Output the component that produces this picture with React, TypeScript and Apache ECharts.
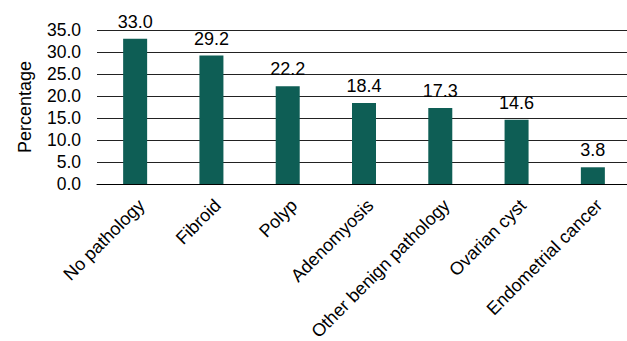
import React, { useEffect, useRef } from "react";
import * as echarts from "echarts";

const categories = [
  "No pathology",
  "Fibroid",
  "Polyp",
  "Adenomyosis",
  "Other benign pathology",
  "Ovarian cyst",
  "Endometrial cancer",
];
const values = [33.0, 29.2, 22.2, 18.4, 17.3, 14.6, 3.8];
const yAxisName = "Percentage";

export default function App() {
  const ref = useRef<HTMLDivElement>(null);
  useEffect(() => {
    if (!ref.current) return;
    const chart = echarts.init(ref.current, null, { renderer: "svg" });
    const font = "'Liberation Sans', Arial, sans-serif";
    chart.setOption({
      animation: false,
      grid: { left: 97, top: 30, width: 534, height: 154, outerBoundsMode: "none", containLabel: false },
      xAxis: {
        type: "category",
        data: categories,
        axisLine: { show: true, lineStyle: { color: "#000", width: 1 } },
        axisTick: { show: false },
        axisLabel: {
          rotate: 45,
          interval: 0,
          margin: 12,
          fontSize: 18,
          verticalAlign: "top",
          color: "#000",
          fontFamily: font,
        },
      },
      yAxis: {
        type: "value",
        min: 0,
        max: 35,
        interval: 5,
        name: yAxisName,
        nameLocation: "middle",
        nameGap: 63,
        nameTextStyle: { fontSize: 18, color: "#000", fontFamily: font },
        axisLine: { show: false },
        axisTick: { show: false },
        axisLabel: {
          fontSize: 17.5,
          color: "#000",
          fontFamily: font,
          margin: 16,
          formatter: (v: number) => v.toFixed(1),
        },
        splitLine: { lineStyle: { color: "#222", width: 1.2 } },
      },
      series: [
        {
          type: "bar",
          data: values,
          barWidth: 24,
          itemStyle: { color: "#0e5e55" },
          label: {
            show: true,
            position: "top",
            distance: 8,
            fontSize: 18,
            color: "#000",
            fontFamily: font,
            formatter: (p: any) => p.value.toFixed(1),
          },
        },
      ],
    });
    return () => chart.dispose();
  }, []);
  return (
    <div
      ref={ref}
      style={{ position: "fixed", left: 0, top: 0, width: 627, height: 341, background: "#fff" }}
    />
  );
}
